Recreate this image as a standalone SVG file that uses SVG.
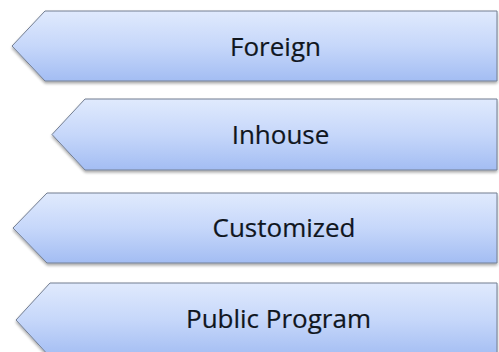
<svg xmlns="http://www.w3.org/2000/svg" width="499" height="352" viewBox="0 0 499 352">
  <defs>
    <linearGradient id="fillBlue" x1="0" y1="0" x2="0" y2="1">
      <stop offset="0" stop-color="#e0eafd"/>
      <stop offset="0.5" stop-color="#c6d7fa"/>
      <stop offset="1" stop-color="#a3bdf3"/>
    </linearGradient>
    <filter id="drop" x="-5%" y="-10%" width="110%" height="130%">
      <feGaussianBlur in="SourceAlpha" stdDeviation="1.5"/>
      <feOffset dx="0" dy="2" result="b"/>
      <feComponentTransfer><feFuncA type="linear" slope="0.35"/></feComponentTransfer>
      <feMerge><feMergeNode/><feMergeNode in="SourceGraphic"/></feMerge>
    </filter>
  </defs>
  <style>
    .tag { fill: url(#fillBlue); stroke: #737e92; stroke-width: 1; filter: url(#drop); }
    .lbl { font-family: "Open Sans", "Noto Sans", sans-serif; font-size: 26px; fill: #10161e; stroke: #10161e; stroke-width: 0.2; text-anchor: middle; }
  </style>
  <rect width="499" height="352" fill="#ffffff"/>

  <g id="foreign">
    <path class="tag" d="M497,11 H45 L12,46 L45,81 H497 Z"/>
    <text class="lbl" x="275.5" y="56">Foreign</text>
  </g>

  <g id="inhouse">
    <path class="tag" d="M497,99 H85 L52,134.5 L85,170 H497 Z"/>
    <text class="lbl" x="280.5" y="144">Inhouse</text>
  </g>

  <g id="customized">
    <path class="tag" d="M497,193 H47 L13,228 L47,263 H497 Z"/>
    <text class="lbl" x="284" y="237">Customized</text>
  </g>

  <g id="public-program">
    <path class="tag" d="M497,283 H50 L16,320 L50,357 H497 Z"/>
    <text class="lbl" x="278.5" y="328">Public Program</text>
  </g>

  <g id="connectors"/>
</svg>
